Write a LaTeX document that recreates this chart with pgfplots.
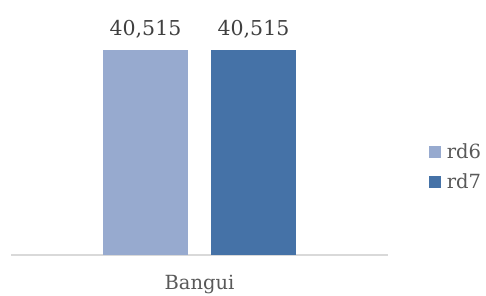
\documentclass[border=0pt]{standalone}
\usepackage{pgfplots}
\pgfplotsset{compat=1.18}
\usepackage{fontspec}
\setmainfont{DejaVu Serif}
\definecolor{cA}{HTML}{97AACF}
\definecolor{cB}{HTML}{4572A7}
\definecolor{numc}{HTML}{404040}
\definecolor{labc}{HTML}{595959}
\definecolor{axc}{HTML}{D9D9D9}
\begin{document}
\begin{tikzpicture}[x=1pt,y=1pt]
\useasboundingbox (0,0) rectangle (486,295);
\begin{axis}[
  at={(11pt,40pt)}, anchor=south west,
  scale only axis, width=377pt, height=205pt,
  xmin=-1, xmax=1, ymin=0, ymax=40515,
  clip=false,
  axis y line=none,
  axis x line*=bottom,
  x axis line style={draw=axc, line width=1.2pt, -},
  xtick={0}, xticklabels={Bangui},
  major tick length=0,
  xticklabel style={font=\fontsize{19.5}{22}\selectfont, text=labc, yshift=-17pt},
  ybar=23pt, bar width=85pt,
  nodes near coords,
  /pgf/number format/.cd, fixed, precision=0, 1000 sep={,}, assume math mode=true,
  /pgfplots/.cd,
  every node near coord/.append style={font=\fontsize{20.5}{23}\selectfont, text=numc, anchor=south, yshift=8pt},
  legend style={at={(1.108,0.43)}, anchor=west, draw=none, fill=none,
     font=\fontsize{19.5}{22}\selectfont, text=labc,
     row sep=9pt, inner sep=0pt, nodes={inner sep=2pt},
     /tikz/every odd column/.append style={column sep=4pt}},
  legend cell align=left,
  legend image code/.code={\fill[#1] (0pt,-6pt) rectangle (12pt,6pt);},
]
\addplot[fill=cA, draw=none] coordinates {(0,40515)};
\addplot[fill=cB, draw=none] coordinates {(0,40515)};
\legend{rd6,rd7}
\end{axis}
\end{tikzpicture}
\end{document}
